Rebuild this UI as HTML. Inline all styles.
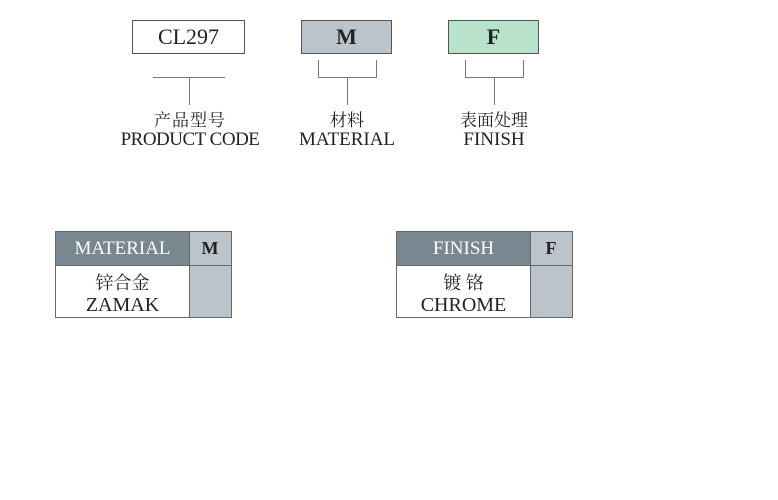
<!DOCTYPE html>
<html><head><meta charset="utf-8"><style>
body{margin:0;width:778px;height:500px;background:#fff;position:relative;font-family:"Liberation Serif","Noto Serif CJK SC",serif;color:#222;overflow:hidden}
.a{position:absolute;box-sizing:border-box}
.box{border:1px solid #555;font-size:22px;text-align:center;line-height:32px}
.l{background:#777}
.t{text-align:center;font-size:17px;line-height:19px}
.e{font-size:19px}
</style></head><body>
<div class="a box" style="left:132px;top:20px;width:113px;height:34px;background:#fff">CL297</div>
<div class="a box" style="left:301px;top:20px;width:91px;height:34px;background:#bcc4cb;font-weight:bold">M</div>
<div class="a box" style="left:448px;top:20px;width:91px;height:34px;background:#b9e2cc;font-weight:bold">F</div>

<div class="a l" style="left:153px;top:77px;width:72px;height:1px"></div>
<div class="a l" style="left:189px;top:77px;width:1px;height:28px"></div>

<div class="a l" style="left:318px;top:60px;width:1px;height:17px"></div>
<div class="a l" style="left:376px;top:60px;width:1px;height:17px"></div>
<div class="a l" style="left:318px;top:77px;width:59px;height:1px"></div>
<div class="a l" style="left:347px;top:77px;width:1px;height:28px"></div>

<div class="a l" style="left:465px;top:60px;width:1px;height:17px"></div>
<div class="a l" style="left:523px;top:60px;width:1px;height:17px"></div>
<div class="a l" style="left:465px;top:77px;width:59px;height:1px"></div>
<div class="a l" style="left:494px;top:77px;width:1px;height:28px"></div>

<div class="a t" style="left:100px;top:111px;width:180px;letter-spacing:1px">产品型号<br><span class="e" style="letter-spacing:-0.5px">PRODUCT CODE</span></div>
<div class="a t" style="left:277px;top:111px;width:140px">材料<br><span class="e">MATERIAL</span></div>
<div class="a t" style="left:424px;top:111px;width:140px">表面处理<br><span class="e">FINISH</span></div>

<div class="a" style="left:55px;top:231px;width:177px;height:87px;border:1px solid #666">
 <div class="a" style="left:0;top:0;width:133px;height:33px;background:#788790;color:#fff;font-size:19px;line-height:33px;text-align:center">MATERIAL</div>
 <div class="a" style="left:133px;top:0;width:42px;height:85px;background:#bcc4cb;border-left:1px solid #666"></div>
 <div class="a" style="left:133px;top:0;width:42px;height:33px;font-size:18px;line-height:33px;text-align:center;font-weight:bold">M</div>
 <div class="a" style="left:0;top:33px;width:175px;height:1px;background:#666"></div>
 <div class="a t" style="left:0;top:40px;width:133px;font-size:18px;line-height:22px">锌合金<br><span style="font-size:20px">ZAMAK</span></div>
</div>

<div class="a" style="left:396px;top:231px;width:177px;height:87px;border:1px solid #666">
 <div class="a" style="left:0;top:0;width:133px;height:33px;background:#788790;color:#fff;font-size:19px;line-height:33px;text-align:center">FINISH</div>
 <div class="a" style="left:133px;top:0;width:42px;height:85px;background:#bcc4cb;border-left:1px solid #666"></div>
 <div class="a" style="left:133px;top:0;width:42px;height:33px;font-size:18px;line-height:33px;text-align:center;font-weight:bold">F</div>
 <div class="a" style="left:0;top:33px;width:175px;height:1px;background:#666"></div>
 <div class="a t" style="left:0;top:40px;width:133px;font-size:18px;line-height:22px">镀 铬<br><span style="font-size:20px">CHROME</span></div>
</div>
</body></html>
